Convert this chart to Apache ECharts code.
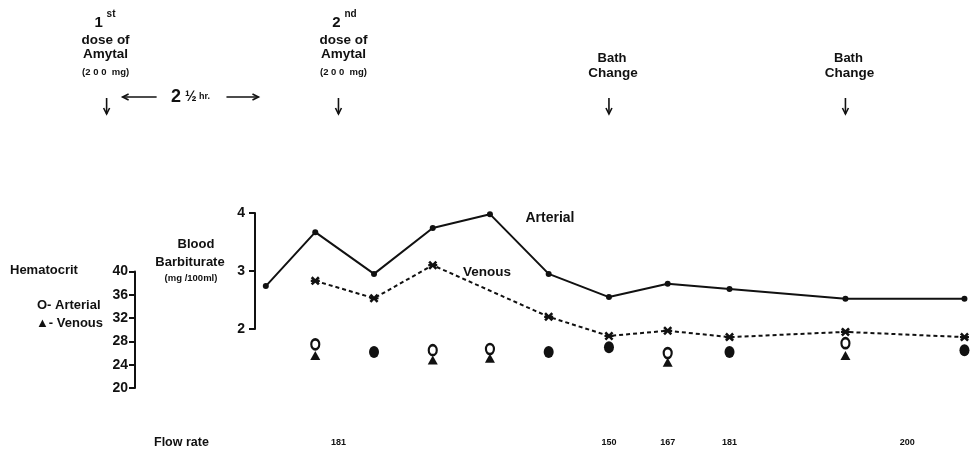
<!DOCTYPE html>
<html>
<head>
<meta charset="utf-8">
<script src="https://cdn.jsdelivr.net/npm/echarts@6/dist/echarts.min.js"></script>
<style>
  html, body { margin: 0; padding: 0; background: #fff; }
  #chart { width: 970px; height: 456px; }
</style>
</head>
<body>
<div id="chart"></div>
<script>
// Sampling times, minutes after the 1st dose of Amytal
const sampleTimes = [103, 135, 173, 211, 248, 286, 325, 363, 403, 478, 555];

// Blood barbiturate, mg/100 ml
const arterialBarb = [2.74, 3.67, 2.95, 3.74, 3.98, 2.95, 2.55, 2.78, 2.69, 2.52, 2.52];
const venousBarb   = [null, 2.83, 2.53, 3.10, null, 2.21, 1.88, 1.97, 1.86, 1.95, 1.86];

// Hematocrit (%) ; equal arterial / venous readings are drawn as one filled dot
const arterialHct = [null, 27.5, 26.2, 26.5, 26.7, 26.2, 27.0, 26.0, 26.2, 27.7, 26.5];
const venousHct   = [null, 25.6, 26.2, 24.8, 25.1, 26.2, 27.0, 24.4, 26.2, 25.6, 26.5];

// Events (minutes)
const doseTimes = [0, 150];
const doseOrdinals = ['1', '2'];
const doseSuffixes = ['st', 'nd'];
const bathChangeTimes = [325, 478];

// Perfusion flow rate
const flowTimes = [150, 325, 363, 403, 518];
const flowRates = [181, 150, 167, 181, 200];

// Axis ticks
const barbTicks = { min: 2, max: 4, interval: 1 };
const hctTicks = { min: 20, max: 40, interval: 4 };
const timeRange = { min: 96, max: 556 };

const FONT = '"Liberation Sans", Arial, sans-serif';
const INK = '#111';

function pairs(xs, ys) {
  const out = [];
  xs.forEach((x, i) => { if (ys[i] != null) out.push([x, ys[i]]); });
  return out;
}

const hctOpen = [], hctTri = [], hctBoth = [];
sampleTimes.forEach((t, i) => {
  const a = arterialHct[i], v = venousHct[i];
  if (a == null) return;
  if (a === v) hctBoth.push([t, a]);
  else { hctOpen.push([t, a]); hctTri.push([t, v]); }
});

const xMark = 'path://M0,2L2,0L5,3L8,0L10,2L7,5L10,8L8,10L5,7L2,10L0,8L3,5Z M0,3.8L10,3.8L10,6.2L0,6.2Z';

function yAxisStyle(extra, margin) {
  return Object.assign({
    type: 'value',
    axisLine: { show: true, lineStyle: { color: INK, width: 2 } },
    axisTick: { show: true, inside: false, length: 6, lineStyle: { color: INK, width: 2 } },
    axisLabel: { color: INK, fontSize: 14, fontWeight: 'bold', fontFamily: FONT, margin: margin },
    splitLine: { show: false }
  }, extra);
}

const chart = echarts.init(document.getElementById('chart'), null, { renderer: 'canvas' });

chart.setOption({
  backgroundColor: '#fff',
  animation: false,
  grid: [
    { left: 255, top: 213, width: 711, height: 116 },
    { left: 255, top: 271.5, width: 711, height: 116.5 }
  ],
  xAxis: [0, 1].map(i => ({
    type: 'value', gridIndex: i, min: timeRange.min, max: timeRange.max, show: false
  })),
  yAxis: [
    yAxisStyle({ gridIndex: 0, min: barbTicks.min, max: barbTicks.max, interval: barbTicks.interval }, 10),
    yAxisStyle({ gridIndex: 1, min: hctTicks.min, max: hctTicks.max, interval: hctTicks.interval, offset: 120 }, 7)
  ],
  series: [
    {
      name: 'Arterial barbiturate', type: 'line', xAxisIndex: 0, yAxisIndex: 0,
      data: pairs(sampleTimes, arterialBarb),
      symbol: 'circle', symbolSize: 6, clip: false,
      lineStyle: { color: INK, width: 2 },
      itemStyle: { color: INK }
    },
    {
      name: 'Venous barbiturate', type: 'line', xAxisIndex: 0, yAxisIndex: 0,
      data: pairs(sampleTimes, venousBarb),
      symbol: xMark, symbolSize: 9, clip: false,
      lineStyle: { color: INK, width: 2, type: [4, 3] },
      itemStyle: { color: INK }
    },
    {
      name: 'Venous hematocrit', type: 'scatter', xAxisIndex: 1, yAxisIndex: 1,
      data: hctTri, symbol: 'triangle', symbolSize: [10, 9], z: 3,
      itemStyle: { color: INK, opacity: 1 }
    },
    {
      name: 'Arterial hematocrit', type: 'scatter', xAxisIndex: 1, yAxisIndex: 1,
      data: hctOpen, symbol: 'circle', symbolSize: [8, 10], z: 4,
      itemStyle: { color: '#fff', borderColor: INK, borderWidth: 2.4, opacity: 1 }
    },
    {
      name: 'Hematocrit', type: 'scatter', xAxisIndex: 1, yAxisIndex: 1, clip: false,
      data: hctBoth, symbol: 'circle', symbolSize: [10, 12], z: 4,
      itemStyle: { color: INK, opacity: 1 }
    }
  ]
});

// Annotation layer: dose / bath-change notes, flow rates and axis captions
const px = t => chart.convertToPixel({ xAxisIndex: 0 }, t);

function txt(text, x, y, size, align, weight) {
  return {
    type: 'text', silent: true,
    style: {
      text: text, x: x, y: y, fill: INK,
      font: (weight || 'bold') + ' ' + size + 'px ' + FONT,
      textAlign: align || 'center', textVerticalAlign: 'middle'
    }
  };
}
function seg(x1, y1, x2, y2, w) {
  return { type: 'line', silent: true, shape: { x1, y1, x2, y2 }, style: { stroke: INK, lineWidth: w || 1.6 } };
}
function poly(points) {
  return { type: 'polyline', silent: true, shape: { points }, style: { stroke: INK, lineWidth: 1.6, fill: null } };
}
function downArrow(x) {
  return [seg(x, 98, x, 114), poly([[x - 3, 108], [x, 114], [x + 3, 108]])];
}

const g = [];

doseTimes.forEach((t, i) => {
  const x = px(t);
  const c = x + (i === 0 ? -1 : 5);
  g.push(txt(doseOrdinals[i], c - 7, 23, 15, 'center'));
  g.push(txt(doseSuffixes[i], c + 1, 14, 10, 'left'));
  g.push(txt('dose of', c, 40, 13.5));
  g.push(txt('Amytal', c, 54, 13.5));
  g.push(txt('(2 0 0  mg)', c, 72, 9.5));
  g.push(...downArrow(x));
});

// interval between the two doses
const x0 = px(doseTimes[0]);
const x1 = px(doseTimes[1]);
const ay = 97;
g.push(seg(x0 + 16, ay, x0 + 50, ay));
g.push(poly([[x0 + 22, ay - 3], [x0 + 16, ay], [x0 + 22, ay + 3]]));
g.push(seg(x1 - 112, ay, x1 - 80, ay));
g.push(poly([[x1 - 86, ay - 3], [x1 - 80, ay], [x1 - 86, ay + 3]]));
g.push({
  type: 'text', silent: true,
  style: {
    x: (x0 + x1) / 2 - 32, y: ay, textAlign: 'center', textVerticalAlign: 'middle',
    text: '{n|2}{f| ½}{u| hr.}',
    rich: {
      n: { fontSize: 18, fontWeight: 'bold', fontFamily: FONT, fill: INK },
      f: { fontSize: 14, fontWeight: 'bold', fontFamily: FONT, fill: INK },
      u: { fontSize: 9, fontWeight: 'bold', fontFamily: FONT, fill: INK }
    }
  }
});

bathChangeTimes.forEach(t => {
  const x = px(t);
  g.push(txt('Bath', x + 3, 58, 13));
  g.push(txt('Change', x + 4, 73, 13.5));
  g.push(...downArrow(x));
});

// Series captions
g.push(txt('Arterial', 550, 218, 14));
g.push(txt('Venous', 487, 272, 13.5));

// Barbiturate axis caption
g.push(txt('Blood', 196, 244, 13));
g.push(txt('Barbiturate', 190, 262, 13));
g.push(txt('(mg /100ml)', 191, 278, 9.5));

// Hematocrit caption and key
g.push(txt('Hematocrit', 10, 270, 13, 'left'));
g.push(txt('O- Arterial', 37, 305, 13, 'left'));
g.push(txt('\u25B2- Venous', 36, 323, 13, 'left'));

// Flow rate row
g.push(txt('Flow rate', 154, 443, 12.5, 'left'));
flowTimes.forEach((t, i) => g.push(txt(String(flowRates[i]), px(t), 443, 9)));

chart.setOption({ graphic: g });
</script>
</body>
</html>
